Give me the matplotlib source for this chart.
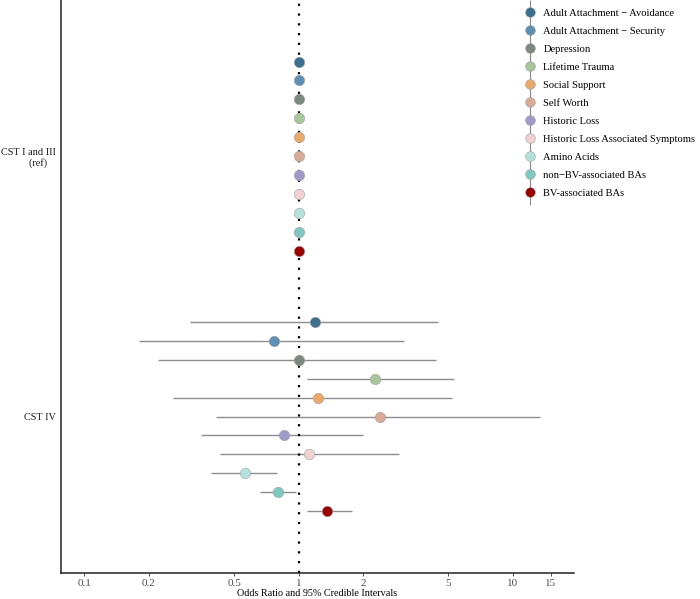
import matplotlib
matplotlib.use('Agg')

import numpy as np
import matplotlib.pyplot as plt
from matplotlib.lines import Line2D

plt.rcParams['font.family'] = ['Liberation Serif', 'DejaVu Serif']

# predictors, top to bottom within each group
labels = ['Adult Attachment \u2212 Avoidance', 'Adult Attachment \u2212 Security',
          'Depression', 'Lifetime Trauma', 'Social Support', 'Self Worth',
          'Historic Loss', 'Historic Loss Associated Symptoms', 'Amino Acids',
          'non\u2212BV-associated BAs', 'BV-associated BAs']
colors = ['#3d6f8e', '#5f8fb5', '#7a8a80', '#a9c59b', '#e9a96a', '#d9aa97',
          '#9e9bc9', '#f2d1d5', '#b4e2da', '#7fc8c1', '#9b0000']

groups = ['CST IV', 'CST I and III\n(ref)   ']

# reference group: all odds ratios = 1
ref_or = [1.0] * 11
ref_lo = [1.0] * 11
ref_hi = [1.0] * 11

# CST IV estimates
iv_or = [1.19, 0.77, 1.00, 2.26, 1.23, 2.39, 0.85, 1.12, 0.56, 0.80, 1.36]
iv_lo = [0.31, 0.18, 0.22, 1.09, 0.26, 0.41, 0.35, 0.43, 0.39, 0.66, 1.09]
iv_hi = [4.45, 3.09, 4.38, 5.28, 5.19, 13.4, 2.00, 2.94, 0.79, 0.97, 1.77]

fig = plt.figure(figsize=(7, 5.99), dpi=100)
ax = fig.add_axes([61/700, 1 - 572.7/599, (574-61)/700, 572.7/599])

n = len(labels)
width = 0.8
offs = (np.arange(n)[::-1] - (n - 1) / 2) * width / n

ax.axvline(1, color='black', lw=1.6, linestyle=(0, (1, 3.4)), zorder=2)

for g, (orv, lo, hi) in enumerate([(iv_or, iv_lo, iv_hi), (ref_or, ref_lo, ref_hi)]):
    ys = g + 1 + offs
    ax.hlines(ys, lo, hi, color='#8c8c8c', lw=1.0, zorder=1)
    for k in range(n):
        ax.plot(orv[k], ys[k], 'o', ms=7.5, mfc=colors[k], mec='#a0a0a0', mew=0.4, zorder=3)

ax.set_xscale('log')
lim = np.log10([0.1, 15])
ext = 0.05 * (lim[1] - lim[0])
ax.set_xlim(10 ** (lim[0] - ext), 10 ** (lim[1] + ext))
ax.set_ylim(0.4, 2.6)
ticks = [0.1, 0.2, 0.5, 1, 2, 5, 10, 15]
ax.set_xticks(ticks)
ax.set_xticklabels(['0.1', '0.2', '0.5', '1', '2', '5', '10', '15'])
ax.xaxis.set_minor_locator(matplotlib.ticker.NullLocator())
ax.set_yticks([1, 2])
ax.set_yticklabels(groups, ha='right', multialignment='right')
ax.tick_params(axis='x', length=2.5, width=0.6, colors='#333333', labelsize=8, labelcolor='#4d4d4d', pad=2)
ax.tick_params(axis='y', length=0, labelsize=7.4, labelcolor='#1a1a1a', pad=4)
ax.set_xlabel('Odds Ratio and 95% Credible Intervals', fontsize=7.3, labelpad=1)

for s in ['top', 'right']:
    ax.spines[s].set_visible(False)
for s in ['left', 'bottom']:
    ax.spines[s].set_linewidth(1.1)
    ax.spines[s].set_color('#222222')

handles = []
for k in range(n):
    vline = Line2D([], [], marker='|', ms=18, mew=0.8, color='#8c8c8c', linestyle='none')
    dot = Line2D([], [], marker='o', ms=7, mfc=colors[k], mec='#a0a0a0', mew=0.4, linestyle='none')
    handles.append((vline, dot))

fig.legend(handles, labels, loc='upper left', bbox_to_anchor=(519/700, 1 - 4/599),
           frameon=False, fontsize=7.6, handlelength=1.2, handletextpad=0.7,
           labelspacing=0.82, borderaxespad=0)

fig.savefig('out.png', dpi=100)
